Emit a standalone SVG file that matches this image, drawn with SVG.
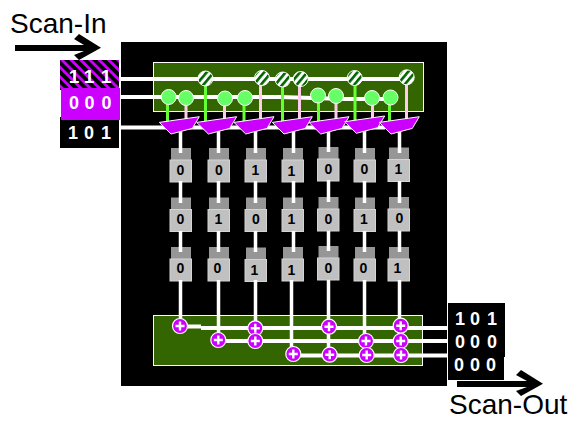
<svg xmlns="http://www.w3.org/2000/svg" width="580" height="428" viewBox="0 0 580 428">
<style>
text{font-family:"Liberation Sans",Arial,sans-serif}
.lbl{font-size:28px;fill:#000}
.bits{font-size:18px;font-weight:bold;fill:#fff;text-anchor:middle}
.reg{font-size:14px;font-weight:bold;fill:#000;text-anchor:middle}
.w{stroke:#fff;stroke-width:4;fill:none}
.v{stroke:#fff;stroke-width:3.5;fill:none}
.g{stroke:#66ff33;stroke-width:3;fill:none}
.p{stroke:#ffccee;stroke-width:3;fill:none}
.panel{fill:#336600;stroke:#fff;stroke-width:1}
.cap{fill:#969696}
.body{fill:#c0c0c0;stroke:#d4d4d4;stroke-width:1}
.mux{fill:#cc00ff;stroke:#fff;stroke-width:1}
.sel{fill:#66ff66;stroke:#fff;stroke-width:1}
.str{fill:url(#stripe);stroke:#fff;stroke-width:1}
.add{fill:#cc00ff;stroke:#fff;stroke-width:1.2}
.plus{stroke:#fff;stroke-width:2.4}
</style>
<defs>
<pattern id="hatch" width="6.600" height="6.600" patternUnits="userSpaceOnUse" patternTransform="rotate(-45)">
<rect width="6.600" height="6.600" fill="#000"/>
<rect width="2.800" height="6.600" fill="#cc00ff"/>
</pattern>
<pattern id="stripe" width="5.500" height="5.500" patternUnits="userSpaceOnUse" patternTransform="rotate(40)">
<rect width="5.500" height="5.500" fill="#fff"/>
<rect width="2.600" height="5.500" fill="#006600"/>
</pattern>
<g id="plusNode"><circle r="7.500" class="add"/><path d="M-4.500 0H4.500M0 -4.500V4.500" class="plus"/></g>
<polygon id="muxShape" points="0,5.700 40,0 33,11.700 11.700,17.300" class="mux"/>
<g id="regShape"><rect x="1" y="0" width="20" height="12" class="cap"/><rect x="0" y="12" width="21.500" height="22" class="body"/></g>
</defs>
<rect id="background" x="121" y="42" width="326" height="344" fill="#000"/>
<g id="input-panel"><rect x="153.500" y="62.500" width="270" height="49" class="panel"/></g>
<g id="output-panel"><rect x="153.500" y="315.500" width="269" height="50" class="panel"/></g>
<g id="registers">
<use id="r11" href="#regShape" x="170" y="148"/><use id="r12" href="#regShape" x="208" y="148"/><use id="r13" href="#regShape" x="245" y="148"/><use id="r14" href="#regShape" x="282" y="148"/><use id="r15" href="#regShape" x="317.500" y="147"/><use id="r16" href="#regShape" x="354" y="148"/><use id="r17" href="#regShape" x="388" y="147.500"/>
<use id="r21" href="#regShape" x="170" y="197.500"/><use id="r22" href="#regShape" x="208" y="197.500"/><use id="r23" href="#regShape" x="245" y="197.500"/><use id="r24" href="#regShape" x="282" y="197.500"/><use id="r25" href="#regShape" x="317.500" y="197"/><use id="r26" href="#regShape" x="354" y="197.500"/><use id="r27" href="#regShape" x="388" y="197"/>
<use id="r31" href="#regShape" x="170" y="247"/><use id="r32" href="#regShape" x="208" y="247"/><use id="r33" href="#regShape" x="245" y="247.500"/><use id="r34" href="#regShape" x="282" y="247"/><use id="r35" href="#regShape" x="317.500" y="246"/><use id="r36" href="#regShape" x="354" y="247"/><use id="r37" href="#regShape" x="388" y="247"/>
</g>
<g id="connectors">
<path class="w" d="M121 79H406M121 97H280L345 99H390M121 127.500H385"/>
<path class="g" d="M167.500 97V122M205.500 78V122M244 98V122M282.500 79V122M318.500 96V122M355 78V122M389.500 97V122"/>
<path class="p" d="M186 98V122M224.500 98V122M260.500 78V122M299.500 79V122M336 96V122M372.500 98V122M406.500 77V122"/>
<path class="w" d="M180 326.500H201M201 328H447M218 341H447M293 355.500H447"/>
<path class="v" d="M180.500 130V153M180.500 181V203M180.500 231V252M180.500 280V326"/>
<path class="v" d="M218.500 130V153M218.500 181V203M218.500 231V252M218.500 280V340"/>
<path class="v" d="M255.500 130V153M255.500 181V203M255.500 231V252M255.500 280V341"/>
<path class="v" d="M293.500 130V153M293.500 181V203M293.500 231V252M291.500 280V354"/>
<path class="v" d="M328.500 130V152M328.500 180V202M328.500 231V251M328.500 280V355"/>
<path class="v" d="M364.500 130V153M364.500 181V203M364.500 231V252M364.500 280V355"/>
<path class="v" d="M399.500 130V153M399.500 181V203M399.500 231V252M399.500 280V355"/>
</g>
<g id="register-values">
<text class="reg" x="180.500" y="175">0</text><text class="reg" x="219" y="175">0</text><text class="reg" x="255.500" y="175">1</text><text class="reg" x="291.500" y="176">1</text><text class="reg" x="328.500" y="174">0</text><text class="reg" x="364.500" y="174">0</text><text class="reg" x="398.500" y="174">1</text>
<text class="reg" x="180.500" y="224">0</text><text class="reg" x="218.500" y="224">1</text><text class="reg" x="256" y="224">0</text><text class="reg" x="291.500" y="224">1</text><text class="reg" x="328.500" y="224">0</text><text class="reg" x="364" y="224">1</text><text class="reg" x="399.500" y="223">0</text>
<text class="reg" x="180.500" y="273">0</text><text class="reg" x="217.500" y="273">0</text><text class="reg" x="254.500" y="275">1</text><text class="reg" x="291.500" y="275">1</text><text class="reg" x="328.500" y="273">0</text><text class="reg" x="363.500" y="273">0</text><text class="reg" x="397.500" y="273">1</text>
</g>
<g id="selectors">
<circle id="s1" cx="205.500" cy="78.500" r="7.500" class="str"/><circle id="s2" cx="262" cy="78" r="7.500" class="str"/><circle id="s3" cx="282.700" cy="79.500" r="7.500" class="str"/><circle id="s4" cx="300.700" cy="79" r="7.500" class="str"/><circle id="s5" cx="354.700" cy="78" r="7.500" class="str"/><circle id="s6" cx="406.700" cy="77.300" r="7.500" class="str"/>
<circle id="c1" cx="168.700" cy="97" r="7.500" class="sel"/><circle id="c2" cx="186" cy="98" r="7.500" class="sel"/><circle id="c3" cx="225" cy="98.500" r="7.500" class="sel"/><circle id="c4" cx="245" cy="98" r="7.500" class="sel"/><circle id="c5" cx="318" cy="95.500" r="7.500" class="sel"/><circle id="c6" cx="336" cy="96" r="7.500" class="sel"/><circle id="c7" cx="372" cy="98" r="7.500" class="sel"/><circle id="c8" cx="390.500" cy="97.500" r="7.500" class="sel"/>
</g>
<g id="muxes">
<use id="m1" href="#muxShape" x="159.300" y="116.700"/><use id="m2" href="#muxShape" x="196.700" y="116.700"/><use id="m3" href="#muxShape" x="234" y="116.700"/><use id="m4" href="#muxShape" x="272.300" y="116.700"/><use id="m5" href="#muxShape" x="309" y="116.700"/><use id="m6" href="#muxShape" x="344.700" y="116"/><use id="m7" href="#muxShape" x="379.300" y="116.700"/>
</g>
<g id="adders">
<use id="a1" href="#plusNode" x="180" y="326"/><use id="a2" href="#plusNode" x="218.300" y="340"/><use id="a3" href="#plusNode" x="255.300" y="328.300"/><use id="a4" href="#plusNode" x="255.300" y="341"/><use id="a5" href="#plusNode" x="293.300" y="354"/><use id="a6" href="#plusNode" x="329" y="326.700"/><use id="a7" href="#plusNode" x="329.700" y="354.700"/><use id="a8" href="#plusNode" x="366" y="341"/><use id="a9" href="#plusNode" x="366.700" y="355"/><use id="a10" href="#plusNode" x="400.700" y="325.700"/><use id="a11" href="#plusNode" x="400.700" y="341"/><use id="a12" href="#plusNode" x="401" y="355"/>
</g>
<g id="scan-in-block">
<rect x="60" y="60" width="59" height="30" fill="url(#hatch)"/>
<rect x="60" y="117" width="59" height="31" fill="#000"/>
<rect x="61" y="88" width="59" height="32" fill="#cc00ff"/>
<text class="bits" x="74" y="83" style="font-size:19px">1</text><text class="bits" x="89" y="83" style="font-size:19px">1</text><text class="bits" x="106" y="83" style="font-size:19px">1</text>
<text class="bits" x="74" y="109">0</text><text class="bits" x="89.500" y="109">0</text><text class="bits" x="106.500" y="109">0</text>
<text class="bits" x="73" y="139">1</text><text class="bits" x="89" y="139">0</text><text class="bits" x="106" y="139">1</text>
</g>
<g id="scan-out-block">
<rect x="448" y="303" width="57" height="54" fill="#000"/><rect x="448" y="357" width="56" height="23" fill="#000"/>
<text class="bits" x="460" y="325">1</text><text class="bits" x="475" y="325">0</text><text class="bits" x="492" y="325">1</text>
<text class="bits" x="460" y="348">0</text><text class="bits" x="475" y="348">0</text><text class="bits" x="492" y="348">0</text>
<text class="bits" x="459" y="371">0</text><text class="bits" x="475" y="371">0</text><text class="bits" x="491" y="371">0</text>
</g>
<g id="scan-in">
<text class="lbl" x="10" y="33">Scan-In</text>
<path d="M15 45H84L74 39L79 34L101 47.700L79 60L74 55L84 51H15Z" fill="#000"/>
</g>
<g id="scan-out">
<text class="lbl" x="449" y="414">Scan-Out</text>
<path d="M457 381H527L516 375L521 370L543 383.700L521 396L516 391L527 387H457Z" fill="#000"/>
</g>
</svg>
